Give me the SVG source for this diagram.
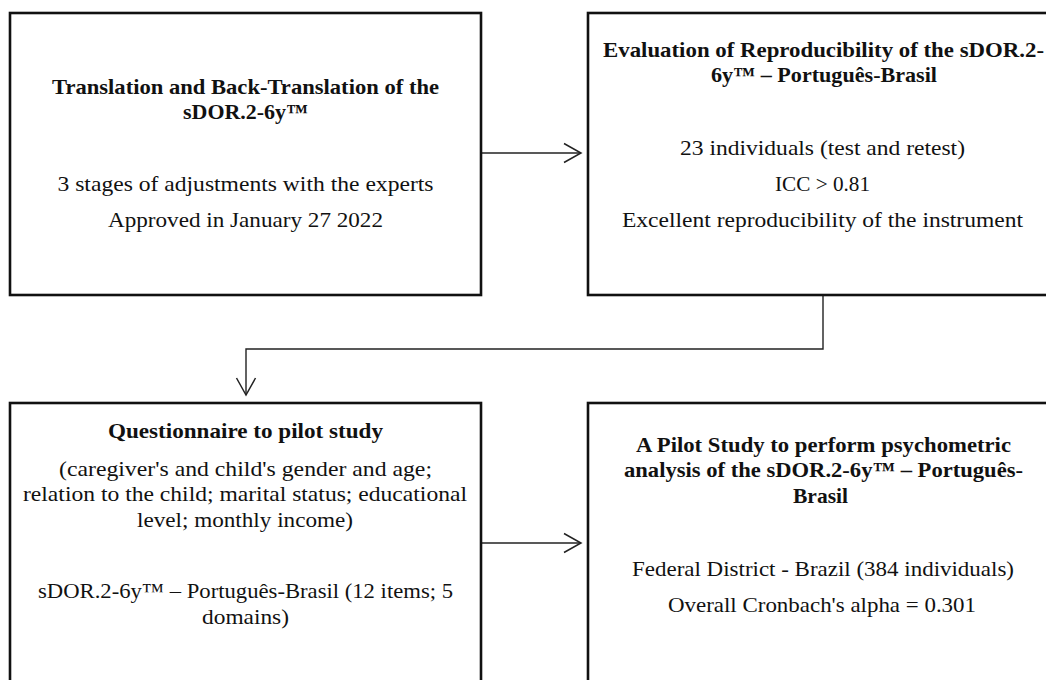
<svg xmlns="http://www.w3.org/2000/svg" width="1046" height="680" viewBox="0 0 1046 680">
  <style>
    .box { fill: #ffffff; stroke: #111111; stroke-width: 2.6; }
    .t { font-family: "Liberation Serif", "Times New Roman", serif; font-size: 21px; fill: #111111; text-anchor: middle; }
    .b { font-weight: bold; }
    .conn { fill: none; stroke: #222222; stroke-width: 1.4; }
  </style>
  <defs>
    <marker id="open" markerUnits="userSpaceOnUse" markerWidth="20" markerHeight="22" viewBox="0 0 20 22" refX="18" refY="11" orient="auto">
      <path d="M1,1.5 L18,11 L1,20.5" fill="none" stroke="#222222" stroke-width="1.5"/>
    </marker>
  </defs>
  <rect width="1046" height="680" fill="#ffffff"/>

  <g id="connectors">
    <line class="conn" x1="481" y1="153" x2="581" y2="153" marker-end="url(#open)"/>
    <polyline class="conn" points="823,295 823,349 246,349 246,395" marker-end="url(#open)"/>
    <line class="conn" x1="481" y1="543" x2="581" y2="543" marker-end="url(#open)"/>
  </g>

  <g id="node-translation">
    <rect class="box" x="10" y="13" width="471" height="282"/>
    <text class="t b" x="245.5" y="94" textLength="387" lengthAdjust="spacingAndGlyphs">Translation and Back-Translation of the</text>
    <text class="t b" x="245.5" y="119" textLength="125" lengthAdjust="spacingAndGlyphs">sDOR.2-6y™</text>
    <text class="t" x="245.5" y="191" textLength="376" lengthAdjust="spacingAndGlyphs">3 stages of adjustments with the experts</text>
    <text class="t" x="245.5" y="227" textLength="275" lengthAdjust="spacingAndGlyphs">Approved in January 27 2022</text>
  </g>

  <g id="node-reproducibility">
    <rect class="box" x="588" y="13" width="472" height="282"/>
    <text class="t b" x="823.5" y="57" textLength="441" lengthAdjust="spacingAndGlyphs">Evaluation of Reproducibility of the sDOR.2-</text>
    <text class="t b" x="824" y="82" textLength="226" lengthAdjust="spacingAndGlyphs">6y™ – Português-Brasil</text>
    <text class="t" x="822.5" y="155" textLength="285" lengthAdjust="spacingAndGlyphs">23 individuals (test and retest)</text>
    <text class="t" x="822.5" y="191" textLength="95" lengthAdjust="spacingAndGlyphs">ICC &gt; 0.81</text>
    <text class="t" x="822.5" y="227" textLength="401" lengthAdjust="spacingAndGlyphs">Excellent reproducibility of the instrument</text>
  </g>

  <g id="node-questionnaire">
    <rect class="box" x="10" y="403" width="471" height="300"/>
    <text class="t b" x="245.5" y="438" textLength="275" lengthAdjust="spacingAndGlyphs">Questionnaire to pilot study</text>
    <text class="t" x="245.5" y="476" textLength="373" lengthAdjust="spacingAndGlyphs">(caregiver's and child's gender and age;</text>
    <text class="t" x="245" y="501" textLength="444" lengthAdjust="spacingAndGlyphs">relation to the child; marital status; educational</text>
    <text class="t" x="245" y="527" textLength="216" lengthAdjust="spacingAndGlyphs">level; monthly income)</text>
    <text class="t" x="245.5" y="598" textLength="415" lengthAdjust="spacingAndGlyphs">sDOR.2-6y™ – Português-Brasil (12 items; 5</text>
    <text class="t" x="245.5" y="624" textLength="87" lengthAdjust="spacingAndGlyphs">domains)</text>
  </g>

  <g id="node-pilot">
    <rect class="box" x="588" y="403" width="472" height="300"/>
    <text class="t b" x="823.5" y="452" textLength="375" lengthAdjust="spacingAndGlyphs">A Pilot Study to perform psychometric</text>
    <text class="t b" x="823.5" y="477" textLength="399" lengthAdjust="spacingAndGlyphs">analysis of the sDOR.2-6y™ – Português-</text>
    <text class="t b" x="820.5" y="503" textLength="55" lengthAdjust="spacingAndGlyphs">Brasil</text>
    <text class="t" x="823" y="576" textLength="382" lengthAdjust="spacingAndGlyphs">Federal District - Brazil (384 individuals)</text>
    <text class="t" x="822" y="612" textLength="308" lengthAdjust="spacingAndGlyphs">Overall Cronbach's alpha = 0.301</text>
  </g>
</svg>
